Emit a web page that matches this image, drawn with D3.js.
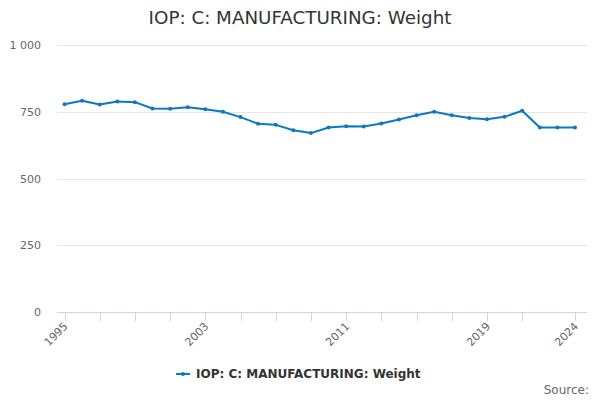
<!DOCTYPE html>
<html><head><meta charset="utf-8">
<script src="https://cdn.jsdelivr.net/npm/d3@7"></script>
<style>body{margin:0;background:#fff}svg{display:block;font-family:"DejaVu Sans",sans-serif}</style>
</head><body><svg id="c" width="600" height="400"></svg>
<script>
const years = d3.range(1995, 2025);
const values = [778,791,777,788,786,762,761,767,759,750,730,705,701,681,670,691,696,695,706,721,737,750,737,727,722,731,754,691,691,691];
const yTicks = [0,250,500,750,1000];
const xTickYears = [1995,1997,1999,2001,2003,2005,2007,2009,2011,2013,2015,2017,2019,2021,2024];
const xLabelYears = [1995,2003,2011,2019,2024];
const title = "IOP: C: MANUFACTURING: Weight";
const seriesName = "IOP: C: MANUFACTURING: Weight";
const color = "#0b79c1";

const svg = d3.select("#c");
const x = d3.scaleLinear().domain([1995,2024]).range([64.5,575]);
const y = d3.scaleLinear().domain([0,1000]).range([312,45]);
const left = 57, right = 587;

svg.append("text").attr("x",300).attr("y",24).attr("text-anchor","middle")
  .attr("font-size",18.3).attr("fill","#333").text(title);

const fmt = v => d3.format(",")(v).replace(/,/g," ");
const gy = svg.append("g");
yTicks.forEach(t=>{
  if(t>0) gy.append("line").attr("x1",left).attr("x2",right).attr("y1",Math.round(y(t))+0.5).attr("y2",Math.round(y(t))+0.5).attr("stroke","#e6e6e6").attr("stroke-width",1);
  gy.append("text").attr("x",41).attr("y",y(t)+4).attr("text-anchor","end").attr("font-size",11).attr("fill","#666").text(fmt(t));
});

svg.append("line").attr("x1",left).attr("x2",right).attr("y1",y(0)+0.5).attr("y2",y(0)+0.5).attr("stroke","#ccd6eb");
xTickYears.forEach(t=>{
  svg.append("line").attr("x1",Math.round(x(t))+0.5).attr("x2",Math.round(x(t))+0.5).attr("y1",y(0)).attr("y2",y(0)+9).attr("stroke","#ccd6eb");
});
xLabelYears.forEach(t=>{
  const tx = x(t)+4, ty = y(0)+15;
  svg.append("text").attr("transform",`translate(${tx},${ty}) rotate(-45)`).attr("text-anchor","end")
    .attr("font-size",11).attr("fill","#666").text(t);
});

const data = years.map((yr,i)=>({yr,v:values[i]}));
svg.append("path").datum(data).attr("fill","none").attr("stroke",color).attr("stroke-width",2)
  .attr("stroke-linejoin","round").attr("d",d3.line().x(d=>x(d.yr)).y(d=>y(d.v)));
svg.selectAll("circle.pt").data(data).join("circle").attr("class","pt")
  .attr("cx",d=>x(d.yr)).attr("cy",d=>y(d.v)).attr("r",2).attr("fill",color);

const lg = svg.append("g");
lg.append("line").attr("x1",176).attr("x2",190).attr("y1",374).attr("y2",374).attr("stroke",color).attr("stroke-width",2);
lg.append("circle").attr("cx",183).attr("cy",374).attr("r",2).attr("fill",color);
lg.append("text").attr("x",196).attr("y",378).attr("font-size",12).attr("font-weight","bold").attr("fill","#333").text(seriesName);

svg.append("text").attr("x",589).attr("y",394).attr("text-anchor","end").attr("font-size",12).attr("fill","#666").text("Source:");
</script></body></html>
